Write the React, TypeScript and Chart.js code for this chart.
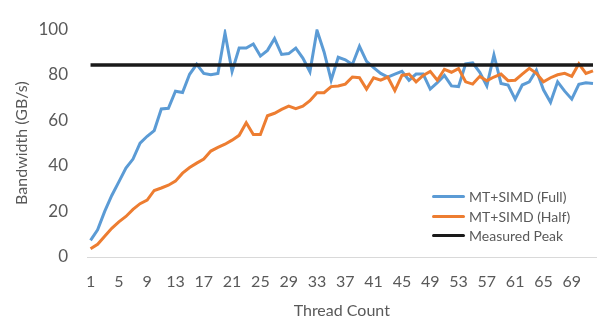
import React, { useEffect, useRef } from "react";
import { Chart, registerables } from "chart.js";

Chart.register(...registerables);

const THREAD_COUNTS: string[] = [
  "1", "2", "3", "4", "5", "6", "7", "8", "9", "10", "11", "12",
  "13", "14", "15", "16", "17", "18", "19", "20", "21", "22", "23", "24",
  "25", "26", "27", "28", "29", "30", "31", "32", "33", "34", "35", "36",
  "37", "38", "39", "40", "41", "42", "43", "44", "45", "46", "47", "48",
  "49", "50", "51", "52", "53", "54", "55", "56", "57", "58", "59", "60",
  "61", "62", "63", "64", "65", "66", "67", "68", "69", "70", "71", "72",
];

const X_TICK_LABELS: string[] = [
  "1", "5", "9", "13", "17", "21", "25", "29", "33", "37", "41", "45",
  "49", "53", "57", "61", "65", "69",
];

const MT_SIMD_FULL: number[] = [
  7.3, 11.9, 20, 27, 33, 39, 43, 50, 53, 55.5, 65, 65.3,
  72.8, 72.2, 80.2, 84.6, 80.6, 80, 80.6, 98.3, 81.5, 91.7, 91.7, 93.5,
  88.2, 90.7, 95.9, 88.9, 89.3, 91.7, 87.3, 81.3, 99.5, 90, 77.6, 87.7,
  86.6, 84.5, 92.5, 85.9, 83.1, 80.6, 79, 80.3, 81.5, 77.6, 80.3, 80.3,
  73.7, 76.5, 79.7, 75.1, 74.8, 84.8, 85.2, 81.1, 75.1, 88.7, 76.2, 75.5,
  69.3, 75.5, 76.9, 82, 73.4, 67.9, 76.9, 72.8, 69.3, 75.8, 76.5, 76.2,
];

const MT_SIMD_HALF: number[] = [
  3.6, 5.6, 9.1, 12.6, 15.4, 17.8, 20.9, 23.4, 25, 29.2, 30.3, 31.5,
  33.3, 36.8, 39.3, 41.2, 43, 46.5, 48.1, 49.5, 51.3, 53.4, 58.9, 53.8,
  53.8, 62, 63.1, 64.8, 66.2, 65.1, 66.2, 68.6, 72.1, 72.1, 74.8, 75.1,
  75.9, 79, 78.7, 73.7, 78.7, 77.6, 79, 73, 79.7, 80.3, 76.9, 79.7,
  81.5, 77.6, 82.4, 81.1, 82.7, 76.9, 75.9, 79.3, 77.4, 79, 80.3, 77.4,
  77.6, 80.3, 82.8, 80.6, 76.9, 78.7, 80, 80.6, 79.3, 84.8, 80.6, 81.7,
];

const MEASURED_PEAK = 84.3;

const SERIES_NAMES: string[] = ["MT+SIMD (Full)", "MT+SIMD (Half)", "Measured Peak"];
const SERIES_COLORS: string[] = ["#5B9BD5", "#ED7D31", "#1a1a1a"];

const FONT = "Lato, 'Open Sans', sans-serif";
const TEXT_COLOR = "#595959";

export default function App() {
  const canvasRef = useRef<HTMLCanvasElement | null>(null);

  useEffect(() => {
    if (!canvasRef.current) return;
    const chart = new Chart(canvasRef.current, {
      type: "line",
      data: {
        labels: THREAD_COUNTS,
        datasets: [
          {
            label: SERIES_NAMES[0],
            data: MT_SIMD_FULL,
            borderColor: SERIES_COLORS[0],
            backgroundColor: SERIES_COLORS[0],
            borderWidth: 3,
            pointRadius: 0,
            tension: 0,
            order: 3,
          },
          {
            label: SERIES_NAMES[1],
            data: MT_SIMD_HALF,
            borderColor: SERIES_COLORS[1],
            backgroundColor: SERIES_COLORS[1],
            borderWidth: 3,
            pointRadius: 0,
            tension: 0,
            order: 2,
          },
          {
            label: SERIES_NAMES[2],
            data: THREAD_COUNTS.map(() => MEASURED_PEAK),
            borderColor: SERIES_COLORS[2],
            backgroundColor: SERIES_COLORS[2],
            borderWidth: 3.5,
            pointRadius: 0,
            tension: 0,
            order: 1,
          },
        ],
      },
      options: {
        responsive: false,
        animation: false,
        layout: { padding: { top: 16, right: 0, left: 0, bottom: 0 } },
        plugins: {
          legend: { display: false },
          tooltip: { enabled: false },
        },
        scales: {
          x: {
            type: "category",
            offset: true,
            grid: { display: false, drawTicks: false },
            border: { display: true, color: "#d9d9d9", width: 1 },
            ticks: {
              autoSkip: false,
              maxRotation: 0,
              minRotation: 0,
              padding: 15,
              color: TEXT_COLOR,
              font: { family: FONT, size: 16 },
              callback: function (_v: any, index: number) {
                const lab = THREAD_COUNTS[index];
                return X_TICK_LABELS.includes(lab) ? lab : "";
              },
            },
            title: {
              display: true,
              text: "Thread Count",
              color: TEXT_COLOR,
              font: { family: FONT, size: 16 },
              padding: { top: 0, bottom: 3 },
            },
            afterFit: (scale: any) => {
              scale.height = 66;
            },
          },
          y: {
            min: 0,
            max: 100,
            grid: { display: false, drawTicks: false },
            border: { display: false },
            ticks: {
              stepSize: 20,
              padding: 19,
              color: TEXT_COLOR,
              font: { family: FONT, size: 17 },
            },
            title: {
              display: true,
              text: "Bandwidth (GB/s)",
              color: TEXT_COLOR,
              font: { family: FONT, size: 16 },
              padding: { top: 12, bottom: 0 },
            },
            afterFit: (scale: any) => {
              scale.width = 87;
            },
          },
        },
      },
    });
    return () => chart.destroy();
  }, []);

  const legendRows = [196, 216, 235];

  return (
    <div style={{ position: "absolute", left: 0, top: 0, width: 608, height: 323 }}>
      <canvas ref={canvasRef} width={608} height={323} style={{ display: "block" }} />
      {SERIES_NAMES.map((name, i) => (
        <div
          key={name}
          style={{
            position: "absolute",
            left: 432,
            top: legendRows[i] - 10,
            height: 20,
            display: "flex",
            alignItems: "center",
            fontFamily: FONT,
            fontSize: 14,
            color: TEXT_COLOR,
            whiteSpace: "nowrap",
          }}
        >
          <span
            style={{
              display: "inline-block",
              width: 33,
              height: 3,
              borderRadius: 2,
              background: SERIES_COLORS[i],
              marginRight: 4,
            }}
          />
          <span>{name}</span>
        </div>
      ))}
    </div>
  );
}
